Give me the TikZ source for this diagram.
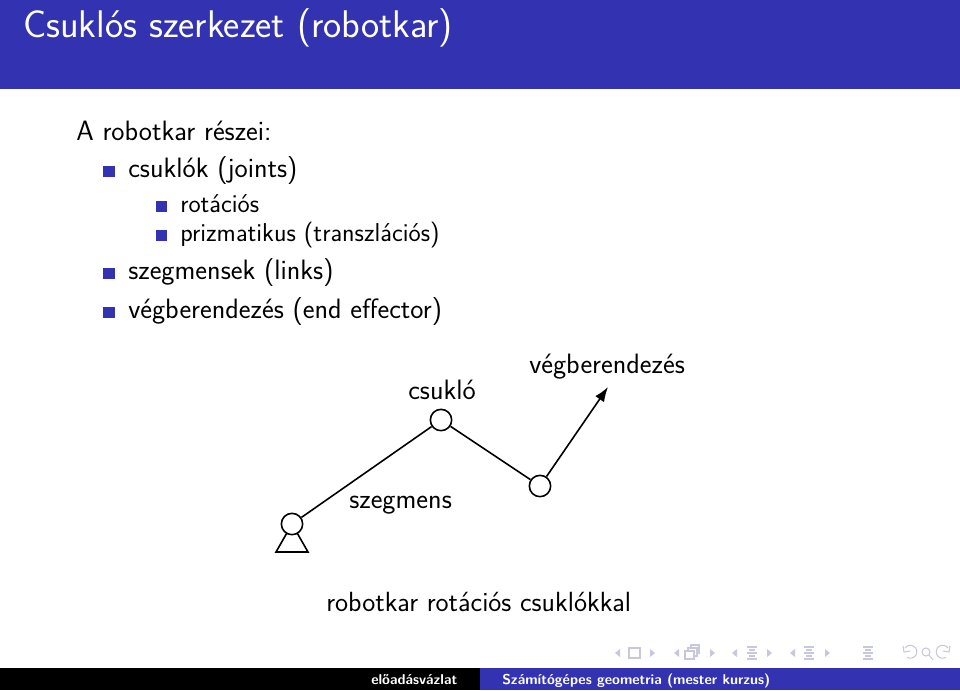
\documentclass[tikz,border=0pt]{standalone}
\usepackage{fontspec}
\usetikzlibrary{arrows.meta}
\definecolor{slideblue}{RGB}{51,51,178}
\definecolor{navgray}{RGB}{200,200,220}
\begin{document}
\begin{tikzpicture}[x=0.75pt,y=-0.75pt,
txt/.style={inner sep=0pt,anchor=base west,font=\sffamily\fontsize{21}{26}\selectfont},
txts/.style={txt,font=\sffamily\fontsize{19.4}{24}\selectfont},
foot/.style={inner sep=0pt,anchor=base west,text=white,font=\sffamily\bfseries\fontsize{10.7}{14}\selectfont},
itm/.style={fill=slideblue,draw=none},
jnt/.style={draw=black,line width=1.2pt,circle,fill=white,minimum size=16pt,inner sep=0pt},
lnk/.style={draw=black,line width=1.2pt},
nav/.style={draw=navgray,line width=0.8pt},
navt/.style={fill=navgray,draw=none}]
\useasboundingbox (0,0) rectangle (960,690);
% bands
\fill[slideblue] (0,0) rectangle (960,89);
\fill[black] (0,668) rectangle (480,690);
\fill[slideblue] (480,668) rectangle (960,690);
\node[txt,text=white,font=\sffamily\fontsize{28.9}{34}\selectfont] (title) at (23,37) {Csuklós szerkezet (robotkar)};
% list
\node[txt] (head) at (76,140) {A robotkar részei:};
\foreach \y in {166,268,307} \fill[itm] (103,\y) rectangle +(12,11);
\foreach \y in {201,230} \fill[itm] (156,\y) rectangle +(11,11);
\node[txt] (LA) at (128,177) {csuklók (joints)};
\node[txts] (LB) at (180,212) {rotációs};
\node[txts] (LC) at (180,241) {prizmatikus (transzlációs)};
\node[txt] (LD) at (128,279) {szegmensek (links)};
\node[txt] (LE) at (128,318) {végberendezés (end effector)};
% arm
\coordinate (BL) at (276,552);
\coordinate (BR) at (308,552);
\coordinate (JC) at (292,524);
\draw[lnk] (JC) -- (BL) -- (BR) -- cycle;
\node[jnt] (JA) at (JC) {};
\node[jnt] (JB) at (441,420) {};
\node[jnt] (JD) at (540,486) {};
\coordinate (EE) at (608,387);
\draw[lnk] (JA) -- (JB);
\draw[lnk] (JB) -- (JD);
\draw[lnk,-{Latex[length=11pt,width=8pt]}] (JD) -- (EE);
\node[txt] (csuklo) at (408,399) {csukló};
\node[txt] (vegb) at (529,373) {végberendezés};
\node[txt] (szegm) at (349,508) {szegmens};
\node[txt,font=\sffamily\fontsize{20.8}{26}\selectfont] (capt) at (326,611) {robotkar rotációs csuklókkal};
% footer
\node[foot] (fA) at (371,684) {előadásvázlat};
\node[foot] (fB) at (502,684) {Számítógépes geometria (mester kurzus)};
% navigation symbols
\foreach \x in {615,674,732,790} \fill[navt] (\x,653) -- +(5,-4) -- +(5,4) -- cycle;
\foreach \x in {655,715,772,830} \fill[navt] (\x,653) -- +(-5,-4) -- +(-5,4) -- cycle;
\draw[nav] (629,648) rectangle (640,658);
\draw[nav] (685,651) rectangle (694,659) (688,651) -- (688,648) -- (697,648) -- (697,656) -- (694,656) (691,648) -- (691,645) -- (699,645) -- (699,653) -- (697,653);
\foreach \x in {752,809,868} \draw[nav,line width=1pt] (\x-5,647) -- (\x+5,647) (\x-3,650) -- (\x+3,650) (\x-5,653) -- (\x+5,653) (\x-3,656) -- (\x+3,656) (\x-5,659) -- (\x+5,659);
\draw[nav] (903,646) -- (904,652) -- (910,651);
\draw[nav] (905,648) arc[start angle=215,end angle=480,radius=6.5];
\draw[nav] (926,652) circle[radius=4] (929,655) -- (933,660);
\draw[nav] (950,646) -- (949,652) -- (943,651);
\draw[nav] (948,648) arc[start angle=-35,end angle=-300,radius=6.5];
\end{tikzpicture}
\end{document}
